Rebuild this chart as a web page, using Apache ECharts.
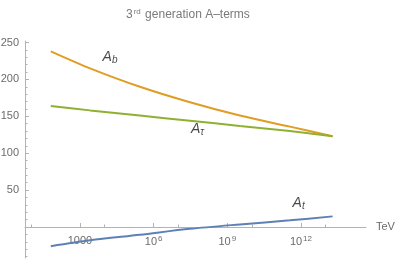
<!DOCTYPE html>
<html><head><meta charset="utf-8">
<script src="https://cdn.jsdelivr.net/npm/echarts@6/dist/echarts.min.js"></script>
<style>html,body{margin:0;padding:0;background:#fff}#c{width:399px;height:259px}</style>
</head><body><div id="c"></div>
<script>
// x values: log10 of the scale in TeV
const scaleExp = [1.81, 3.41, 5.44, 7.48, 9.51, 11.55, 13.29];
const Ab   = [238, 215, 190, 169, 151, 136, 123];
const Atau = [164, 158, 151, 144, 137, 130, 123];
const At   = [-26, -18, -10.5, -2.5, 3.5, 9, 14.4];
const xMajorTicks = [3, 6, 9, 12];
const xMinorTicks = [1, 4, 7, 10, 13];
const yLabels = [50, 100, 150, 200, 250];
const yMajorTicks = [0, 50, 100, 150, 200, 250];
const yMinorTicks = [-40, -30, -20, -10, 10, 20, 30, 40, 60, 70, 80, 90, 110, 120, 130, 140, 160, 170, 180, 190, 210, 220, 230, 240];
// curve label anchors [xExp, value, subscript]
const curveLabels = [[3.92, 230, 'b'], [7.52, 133, 'τ'], [11.66, 32.5, 't']];

const FONT = 'Liberation Sans, Arial, sans-serif';
const AX = '#b3b3b3';
const LBL = '#6b6b6b';
const pair = ys => scaleExp.map((x, i) => [x, ys[i]]);

const Y_MIN = -42, Y_MAX = 252, GRID_TOP = 41, GRID_BOTTOM = 1, H = 259;
const gridH = H - GRID_TOP - GRID_BOTTOM;
// x axis sits on y = 0: shift it up from the grid bottom
const zeroOffset = -gridH * (0 - Y_MIN) / (Y_MAX - Y_MIN);

const chart = echarts.init(document.getElementById('c'), null, {renderer: 'canvas'});
const xBase = {
  type: 'value', min: 0.76, max: 14.65, position: 'bottom', offset: zeroOffset,
  splitLine: {show: false},
  axisLine: {onZero: false, lineStyle: {color: AX, width: 1}}
};
const yBase = {
  type: 'value', min: Y_MIN, max: Y_MAX, position: 'left',
  splitLine: {show: false},
  axisLine: {show: true, onZero: false, lineStyle: {color: AX, width: 1}}
};
chart.setOption({
  animation: false,
  backgroundColor: '#fff',
  textStyle: {fontFamily: FONT},
  title: {
    text: '3{sup|rd} generation A–terms',
    left: 121, top: 3,
    textStyle: {
      fontSize: 12, fontWeight: 'normal', color: '#7a7a7a', fontFamily: FONT,
      rich: {sup: {fontSize: 8, color: '#7a7a7a', verticalAlign: 'top', padding: [0, 1, 6, 1]}}
    }
  },
  grid: {left: 25, right: 33, top: GRID_TOP, bottom: GRID_BOTTOM, containLabel: false, outerBoundsMode: 'none'},
  xAxis: [
    Object.assign({}, xBase, {
      name: 'TeV', nameLocation: 'end', nameGap: 10,
      nameTextStyle: {color: LBL, fontSize: 11, fontFamily: FONT, verticalAlign: 'middle'},
      axisTick: {show: true, inside: true, length: 4, lineStyle: {color: AX}, customValues: xMajorTicks},
      axisLabel: {
        show: true, customValues: xMajorTicks, margin: 8, color: LBL, fontSize: 11, fontFamily: FONT,
        formatter: v => v === 3 ? '1000' : '{b|10}{s|' + v + '}',
        rich: {b: {fontSize: 11, color: LBL}, s: {fontSize: 8, color: LBL, padding: [0, 0, 6, 1]}}
      }
    }),
    Object.assign({}, xBase, {
      axisLine: {show: false, onZero: false},
      axisTick: {show: true, inside: true, length: 2.5, lineStyle: {color: AX}, customValues: xMinorTicks},
      axisLabel: {show: false}
    })
  ],
  yAxis: [
    Object.assign({}, yBase, {
      axisTick: {show: true, inside: true, length: 4, lineStyle: {color: AX}, customValues: yMajorTicks},
      axisLabel: {show: true, customValues: yLabels, margin: 6, color: LBL, fontSize: 11, fontFamily: FONT}
    }),
    Object.assign({}, yBase, {
      axisLine: {show: false},
      axisTick: {show: true, inside: true, length: 2.5, lineStyle: {color: AX}, customValues: yMinorTicks},
      axisLabel: {show: false}
    })
  ],
  series: [
    {name: 'Ab', type: 'line', data: pair(Ab), smooth: 0.3, showSymbol: false, symbol: 'none',
     lineStyle: {color: '#E19C24', width: 2}},
    {name: 'Atau', type: 'line', data: pair(Atau), smooth: 0.3, showSymbol: false, symbol: 'none',
     lineStyle: {color: '#8FB131', width: 2}},
    {name: 'At', type: 'line', data: pair(At), smooth: 0.3, showSymbol: false, symbol: 'none',
     lineStyle: {color: '#5E81B5', width: 2}},
    {name: 'labels', type: 'scatter', data: curveLabels, symbolSize: 0, silent: true,
     label: {
       show: true, position: 'right', distance: 0,
       formatter: p => '{a|A}{s|' + p.value[2] + '}',
       rich: {
         a: {fontSize: 14, fontStyle: 'italic', color: '#1a1a1a', fontFamily: FONT},
         s: {fontSize: 10, fontStyle: 'italic', color: '#1a1a1a', fontFamily: FONT, padding: [6, 0, 0, 0]}
       }
     }}
  ]
});
</script></body></html>
